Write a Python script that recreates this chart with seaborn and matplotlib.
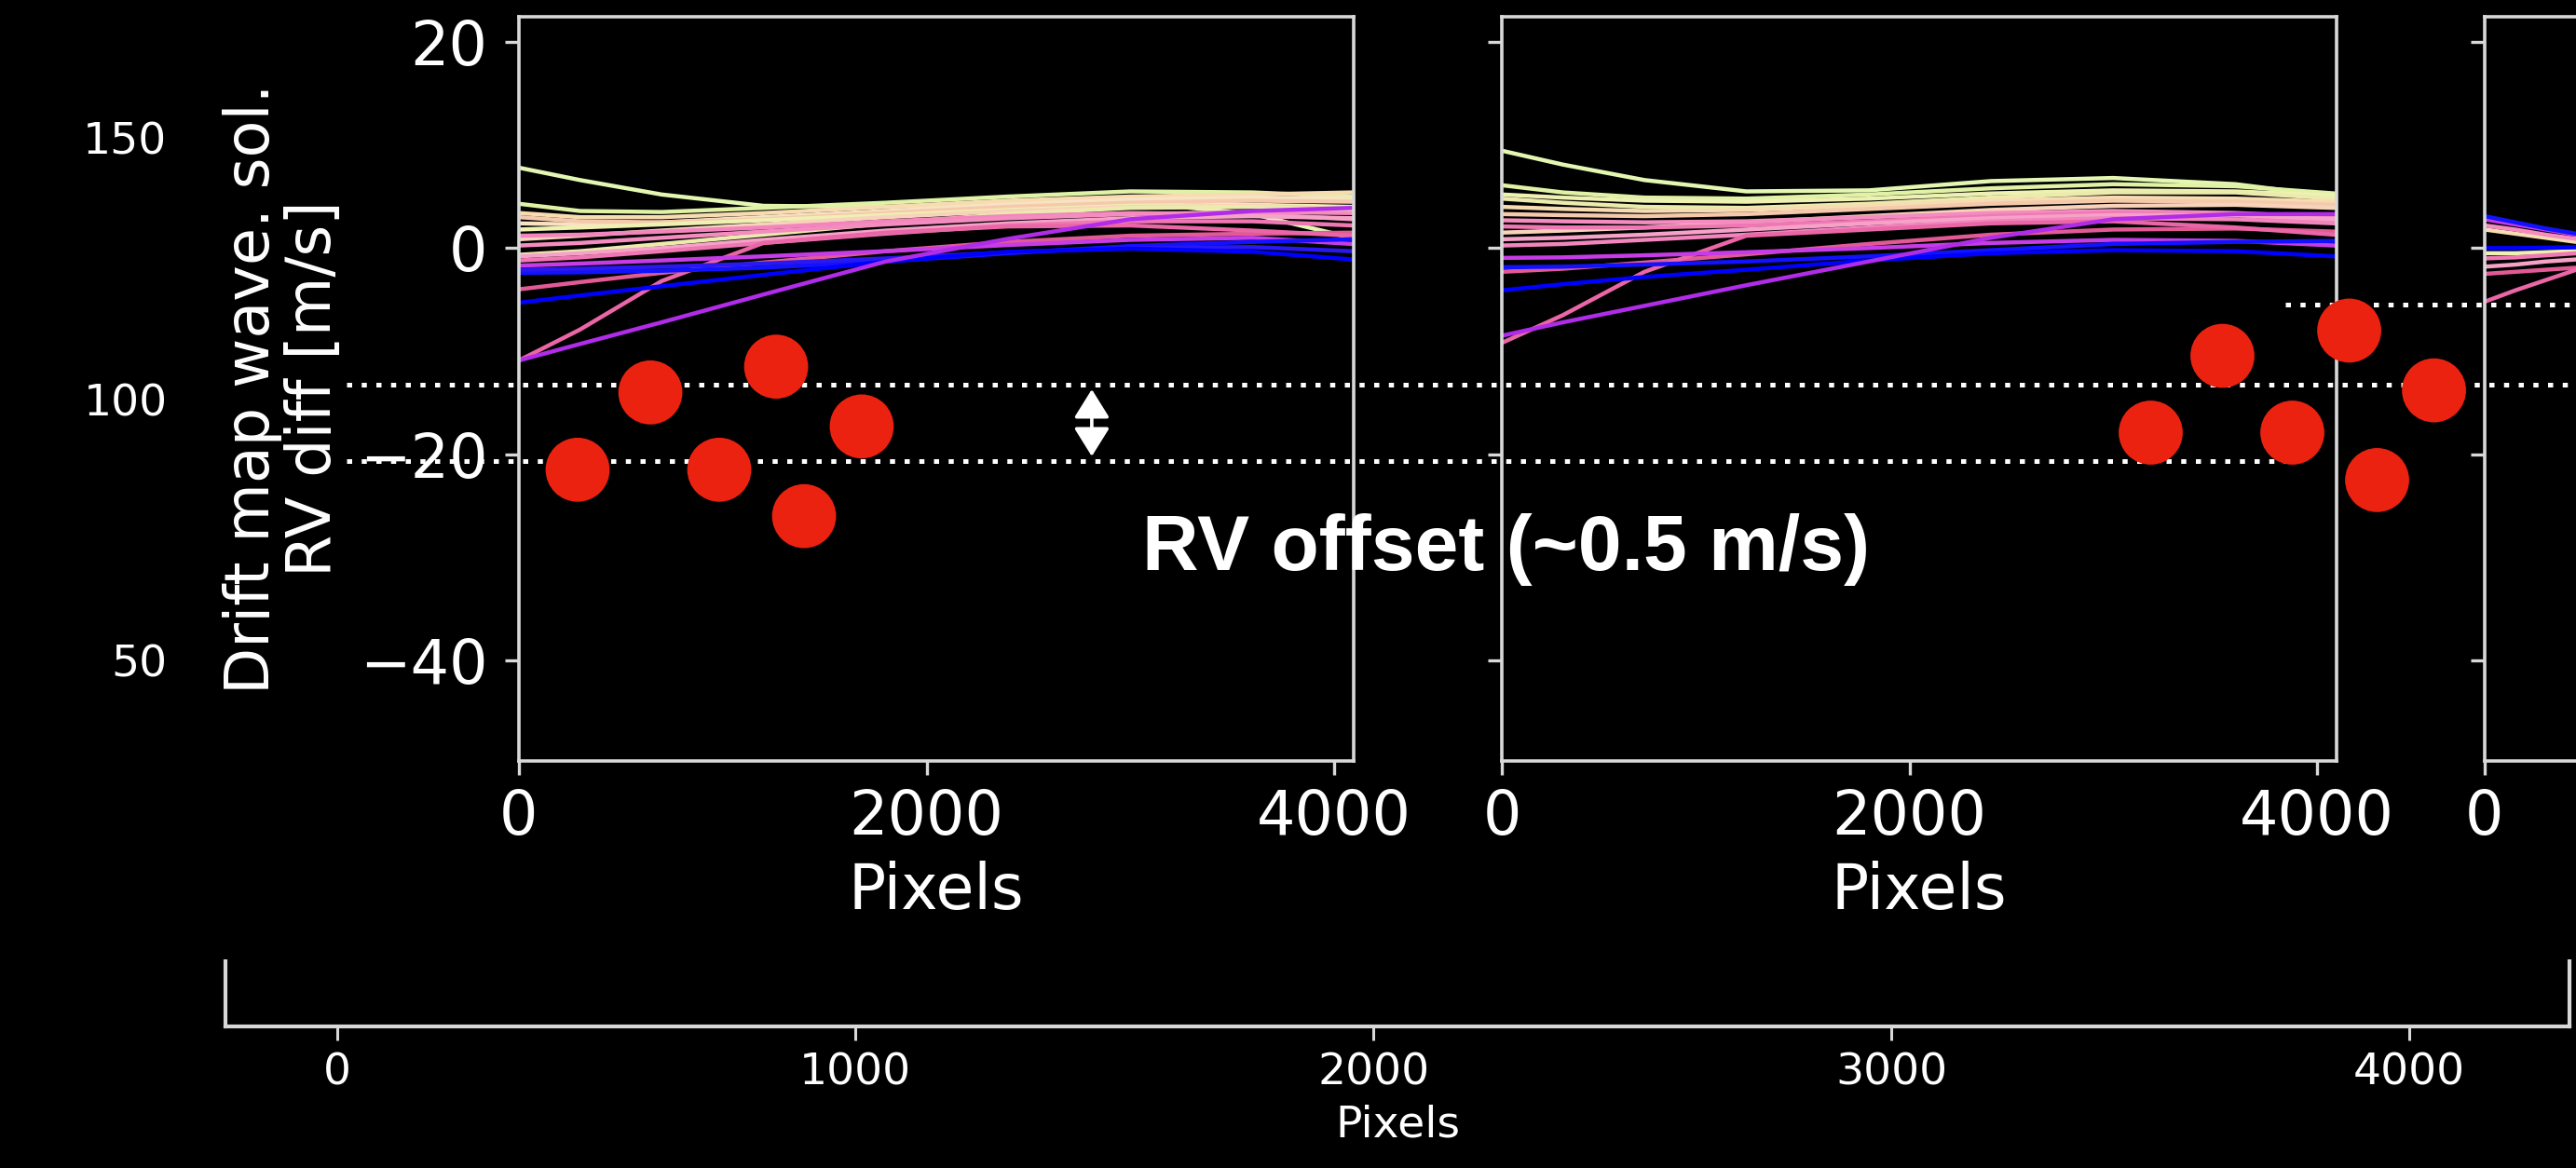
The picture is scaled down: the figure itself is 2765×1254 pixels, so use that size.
import numpy as np
import pandas as pd
import matplotlib
matplotlib.use("Agg")
import matplotlib.pyplot as plt
import seaborn as sns

# ------------------------------------------------------------------ data
# x positions (detector pixels) at which each drift curve was read
x_grid = [0, 300, 700, 1200, 1800, 2400, 3000, 3600, 4088]
x_grid_p3 = [0, 150, 300, 450, 600]

# panel 1 curves: RV diff [m/s]
p1_curves = {
    "g1": [7.8, 6.6, 5.2, 4.1, 4.0, 4.4, 4.5, 3.3, 1.0],
    "g2": [4.3, 3.6, 3.5, 3.9, 4.4, 5.0, 5.5, 5.4, 5.0],
    "c1": [3.4, 3.0, 3.0, 3.4, 4.0, 4.6, 5.0, 5.2, 5.4],
    "c4": [2.4, 2.3, 2.5, 3.0, 3.6, 4.2, 4.7, 4.9, 4.8],
    "c2": [3.0, 2.6, 2.5, 2.8, 3.4, 4.0, 4.4, 4.6, 4.5],
    "y1": [1.8, 2.0, 2.3, 2.7, 3.2, 3.7, 4.1, 4.2, 4.0],
    "c3": [0.86, 1.2, 1.7, 2.3, 3.0, 3.6, 4.0, 4.1, 3.8],
    "y2": [-0.65, -0.3, 0.4, 1.3, 2.4, 3.3, 3.9, 4.0, 3.6],
    "p5": [1.2, 1.3, 1.6, 2.0, 2.6, 3.1, 3.4, 3.3, 2.8],
    "p1": [0.25, 0.5, 1.0, 1.6, 2.3, 2.9, 3.3, 3.5, 3.4],
    "p3": [-0.8, -0.5, 0.0, 0.8, 1.7, 2.4, 2.9, 3.1, 2.9],
    "p2": [-1.2, -0.9, -0.3, 0.5, 1.4, 2.2, 2.6, 2.6, 2.2],
    "r1": [-4.0, -3.3, -2.4, -1.4, -0.3, 0.6, 1.2, 1.4, 1.5],
    "p4": [-10.9, -7.9, -3.2, 0.5, 1.5, 2.1, 2.2, 1.7, 1.2],
    "m1": [-1.7, -1.5, -1.2, -0.8, -0.3, 0.3, 0.8, 1.0, 0.4],
    "b1": [-2.4, -2.35, -2.2, -1.9, -1.3, -0.5, 0.2, 0.6, 0.86],
    "b3": [-2.1, -2.0, -1.8, -1.5, -1.0, -0.4, 0.0, 0.1, -0.3],
    "b2": [-5.3, -4.6, -3.7, -2.6, -1.3, -0.35, -0.05, -0.35, -1.1],
    "m2": [-10.9, -9.3, -7.2, -4.5, -1.3, 0.9, 2.8, 3.6, 3.9],
}

# panel 2 curves
p2_curves = {
    "g1": [9.45, 8.1, 6.6, 5.5, 5.6, 6.5, 6.8, 6.2, 5.0],
    "g2": [6.1, 5.4, 4.9, 4.8, 5.2, 5.8, 6.2, 6.0, 5.3],
    "y1": [5.2, 4.9, 4.6, 4.5, 4.8, 5.3, 5.6, 5.5, 5.1],
    "y2": [4.8, 4.4, 4.0, 3.9, 4.3, 4.9, 5.4, 5.4, 4.8],
    "c1": [4.0, 3.8, 3.6, 3.7, 4.1, 4.6, 4.9, 4.8, 4.5],
    "c2": [3.3, 3.2, 3.1, 3.3, 3.8, 4.3, 4.6, 4.5, 4.2],
    "c3": [1.5, 1.7, 2.0, 2.5, 3.1, 3.7, 4.1, 4.2, 3.9],
    "p1": [2.7, 2.6, 2.5, 2.6, 3.0, 3.4, 3.6, 3.4, 3.0],
    "p2": [2.1, 2.0, 2.0, 2.2, 2.6, 3.1, 3.4, 3.2, 2.6],
    "p3": [0.86, 1.0, 1.3, 1.8, 2.4, 2.9, 3.2, 3.2, 2.8],
    "p5": [0.25, 0.4, 0.8, 1.3, 2.0, 2.6, 2.9, 2.8, 2.4],
    "r1": [-2.3, -2.0, -1.4, -0.6, 0.4, 1.3, 1.8, 1.9, 1.6],
    "p4": [-9.2, -6.5, -2.3, 1.2, 1.8, 2.4, 2.6, 2.0, 1.3],
    "m1": [-0.95, -0.9, -0.7, -0.4, 0.0, 0.5, 0.8, 0.7, 0.25],
    "b1": [-1.85, -1.8, -1.6, -1.3, -0.8, -0.2, 0.4, 0.6, 0.7],
    "b2": [-4.1, -3.5, -2.8, -2.1, -1.2, -0.5, -0.2, -0.3, -0.8],
    "m2": [-8.5, -7.2, -5.6, -3.6, -1.3, 1.0, 2.8, 3.3, 3.3],
}

# panel 3 curves (only the first few hundred pixels are visible)
p3_curves = {
    "c1": [1.8, 1.4, 1.0, 0.6, 0.4],
    "y1": [-0.5, -0.5, -0.4, -0.3, -0.2],
    "p1": [2.2, 1.8, 1.3, 0.9, 0.6],
    "p2": [-1.0, -0.9, -0.7, -0.5, -0.4],
    "p3": [-1.8, -1.6, -1.3, -1.1, -0.9],
    "r1": [-2.5, -2.3, -2.1, -1.9, -1.7],
    "p4": [-5.2, -4.1, -3.1, -2.1, -1.3],
    "m1": [2.8, 2.3, 1.8, 1.3, 1.0],
    "b1": [3.1, 2.5, 1.9, 1.4, 1.0],
    "b2": [0.0, 0.0, 0.05, 0.1, 0.1],
}

# red markers (detector pixel, RV diff) for panel 1 and panel 2
dots_p1_x = [288, 645, 983, 1262, 1399, 1682]
dots_p1_y = [-21.5, -14.0, -21.5, -11.5, -26.0, -17.3]
dots_p2_x = [3184, 3536, 3879, 4158, 4295, 4574]
dots_p2_y = [-17.9, -10.45, -17.9, -8.0, -22.5, -13.8]

# RV-offset double arrow (pixel, RV diff)
arrow_x = 2811
arrow_y = [-13.7, -20.2]

panel_xticks = [0, 2000, 4000]
panel3_xticks = [0]
panel_yticks = [-40, -20, 0, 20]
bg_xticks = [0, 1000, 2000, 3000, 4000]
bg_yticks = [50, 100, 150]

# ------------------------------------------------------------------ style
curve_colors = {
    "g1": "#e4f7b2", "g2": "#dff2a6", "y1": "#eef1b2", "y2": "#ecebae",
    "c1": "#f7dcb2", "c2": "#f5c9ab", "c3": "#f8d3bb", "c4": "#f9e2c4",
    "p1": "#f48cc0", "p2": "#ef78b4", "p3": "#f6a2c8", "p4": "#ea66a6",
    "p5": "#f285bd", "r1": "#e25a95", "m1": "#c63ce6", "m2": "#b02ce8",
    "b1": "#1212ff", "b2": "#0000ff", "b3": "#2a18f0",
}
SPINE = "#d8d8d8"
RED = "#ec2210"
W, H = 2765, 1254
DPI = 100

sns.set_theme(style="ticks")
plt.rcParams.update({
    "figure.facecolor": "black", "savefig.facecolor": "black",
    "axes.facecolor": "black", "axes.edgecolor": SPINE,
    "xtick.color": SPINE, "ytick.color": SPINE,
    "xtick.labelcolor": "white", "ytick.labelcolor": "white",
    "axes.labelcolor": "white", "text.color": "white",
    "axes.linewidth": 2.6,
})
plt.rcParams["font.family"] = ["DejaVu Sans"]


def frac(l, t, r, b):
    return [l / W, 1 - b / H, (r - l) / W, (b - t) / H]


fig = plt.figure(figsize=(W / DPI, H / DPI), dpi=DPI)

# ---- background chart (only its lower axis and left labels show)
ax_bg = fig.add_axes(frac(242, 10, 2758, 1102), zorder=0)
ax_bg.set_xlim(-216, 4309)
ax_bg.set_ylim(-20.05, 174.6)
ax_bg.set_xticks(bg_xticks)
ax_bg.set_yticks(bg_yticks)
ax_bg.spines["top"].set_visible(False)
for s in ["left", "right", "bottom"]:
    ax_bg.spines[s].set_linewidth(3.0)
ax_bg.tick_params(axis="x", labelsize=34, length=11, width=2.2, pad=9)
ax_bg.tick_params(axis="y", labelsize=34, length=11, width=2.2, pad=34)
ax_bg.set_xlabel("Pixels", fontsize=34, labelpad=8)

# black cover (pasted screenshot area)
fig.add_artist(plt.Rectangle((190 / W, 1 - 1030 / H), 1, 1030 / H,
                             transform=fig.transFigure, facecolor="black",
                             edgecolor="none", zorder=1))

# ---- three drift panels
panel_boxes = [frac(557, 18, 1453, 817), frac(1612, 18, 2508, 817),
               frac(2667, 18, 3563, 817)]
panel_data = [(x_grid, p1_curves), (x_grid, p2_curves), (x_grid_p3, p3_curves)]
axes = []
for i, (box, (xs, curves)) in enumerate(zip(panel_boxes, panel_data)):
    ax = fig.add_axes(box, zorder=2)
    rows = []
    for name, vals in curves.items():
        for xv, yv in zip(xs, vals):
            rows.append({"x": xv, "y": yv, "curve": name})
    df = pd.DataFrame(rows)
    sns.lineplot(data=df, x="x", y="y", hue="curve",
                 hue_order=list(curves.keys()), palette=curve_colors,
                 legend=False, ax=ax, linewidth=3.2, estimator=None,
                 sort=False)
    ax.set_xlim(0, 4096)
    ax.set_ylim(-49.75, 22.44)
    ax.set_xticks(panel_xticks if i < 2 else panel3_xticks)
    ax.set_yticks(panel_yticks)
    for s in ax.spines.values():
        s.set_linewidth(2.6)
    ax.tick_params(axis="x", labelsize=47, length=11, width=2.4, pad=10)
    ax.tick_params(axis="y", labelsize=47, length=11, width=2.4, pad=13,
                   labelleft=(i == 0))
    ax.set_xlabel("Pixels" if i < 2 else "", fontsize=48, labelpad=10)
    ax.set_ylabel("")
    axes.append(ax)

ax1, ax2, ax3 = axes
ax1.set_ylabel("Drift map wave. sol.\nRV diff [m/s]", fontsize=47,
               labelpad=12, linespacing=1.05)

# ---- overlay annotations
ov = fig.add_axes([0, 0, 1, 1], zorder=5)
ov.set_xlim(0, W)
ov.set_ylim(H, 0)
ov.axis("off")
ov.patch.set_visible(False)

guide_rows = [(413, 372, W), (495, 372, 2454), (327, 2453, W)]
for yy, x0, x1 in guide_rows:
    ov.plot([x0, x1], [yy, yy], color="white", lw=3.6,
            linestyle=(0, (1.1, 2.05)), dash_capstyle="butt")

ov.scatter(dots_p1_x, dots_p1_y, s=2450, color=RED, edgecolors="none",
           transform=ax1.transData, zorder=6)
ov.scatter(dots_p2_x, dots_p2_y, s=2450, color=RED, edgecolors="none",
           transform=ax2.transData, zorder=6)

ov.annotate("", xy=(arrow_x, arrow_y[1]), xytext=(arrow_x, arrow_y[0]),
            xycoords=ax1.transData, textcoords=ax1.transData,
            arrowprops=dict(arrowstyle="<|-|>,head_length=0.45,head_width=0.28",
                            color="white", lw=2.6, shrinkA=0, shrinkB=0,
                            mutation_scale=42))

ov.text(1616, 612, "RV offset (~0.5 m/s)", ha="center", va="baseline",
        fontsize=60.5, fontweight="bold",
        family=["Liberation Sans", "DejaVu Sans"], color="white", zorder=7)

fig.savefig("out.png", dpi=DPI, facecolor="black")
